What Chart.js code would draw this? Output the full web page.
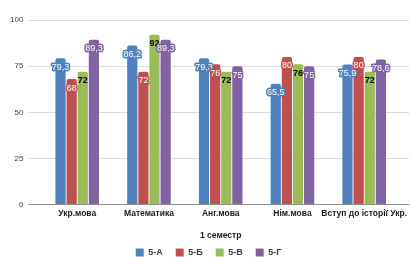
<!DOCTYPE html>
<html>
<head>
<meta charset="utf-8">
<script src="https://cdn.jsdelivr.net/npm/chart.js@4/dist/chart.umd.min.js"></script>
<style>
  html, body { margin: 0; padding: 0; background: #fff; }
  #wrap { width: 412px; height: 257px; }
</style>
</head>
<body>
<div id="wrap"><canvas id="chart" width="412" height="257"></canvas></div>
<script>
const subjects = ['Укр.мова', 'Математика', 'Анг.мова', 'Нім.мова', 'Вступ до історії Укр.'];
const classNames = ['5-А', '5-Б', '5-В', '5-Г'];
const class5A = [79.3, 86.2, 79.3, 65.5, 75.9];
const class5B = [68, 72, 76, 80, 80];
const class5V = [72, 92, 72, 76, 72];
const class5G = [89.3, 89.3, 75, 75, 78.6];
const yTicks = [0, 25, 50, 75, 100];

const colors = ['#4f81bd', '#c0504d', '#9bbb59', '#8064a2'];
const fontFamily = '"Liberation Sans", Arial, sans-serif';

// value labels drawn near the top of every bar (no datalabels plugin offline)
const barLabels = {
    id: 'barLabels',
    afterDatasetsDraw(chart) {
        const ctx = chart.ctx;
        ctx.save();
        ctx.textAlign = 'center';
        ctx.textBaseline = 'middle';
        chart.data.datasets.forEach((ds, i) => {
            const meta = chart.getDatasetMeta(i);
            meta.data.forEach((bar, j) => {
                const text = String(ds.data[j]).replace('.', ',');
                const y = bar.y + 9;
                if (i === 2) {
                    ctx.font = 'bold 9px ' + fontFamily;
                    ctx.fillStyle = '#000';
                    ctx.fillText(text, bar.x, y);
                } else {
                    ctx.font = '9px ' + fontFamily;
                    ctx.lineJoin = 'round';
                    ctx.lineWidth = 3;
                    ctx.strokeStyle = colors[i];
                    ctx.strokeText(text, bar.x, y);
                    ctx.fillStyle = '#fff';
                    ctx.fillText(text, bar.x, y);
                }
            });
        });
        ctx.restore();
    }
};

const seriesData = [class5A, class5B, class5V, class5G];

new Chart(document.getElementById('chart'), {
    type: 'bar',
    data: {
        labels: subjects,
        datasets: seriesData.map((d, i) => ({
            label: classNames[i],
            data: d,
            backgroundColor: colors[i],
            borderWidth: 0,
            borderRadius: { topLeft: 2, topRight: 2 },
            borderSkipped: 'bottom',
            categoryPercentage: 0.62,
            barPercentage: 0.92,
        }))
    },
    options: {
        responsive: false,
        animation: false,
        layout: {
            padding: { top: 20, left: 5, right: 0, bottom: -10 }
        },
        plugins: {
            legend: {
                position: 'bottom',
                labels: {
                    boxWidth: 8,
                    boxHeight: 8,
                    padding: 13,
                    color: '#404040',
                    font: { family: fontFamily, size: 9, weight: 'bold' }
                }
            },
            tooltip: { enabled: false }
        },
        scales: {
            x: {
                grid: { display: false, drawTicks: false },
                border: { display: false },
                ticks: {
                    color: '#1a1a1a',
                    padding: 4,
                    maxRotation: 0,
                    autoSkip: false,
                    font: { family: fontFamily, size: 8.5, weight: 'bold' }
                },
                title: {
                    display: true,
                    text: '1 семестр',
                    color: '#1a1a1a',
                    padding: { top: 8, bottom: -6 },
                    font: { family: fontFamily, size: 8.5, weight: 'bold' }
                }
            },
            y: {
                min: 0,
                max: 100,
                afterBuildTicks(scale) {
                    scale.ticks = yTicks.map(v => ({ value: v }));
                },
                border: { display: false },
                grid: {
                    color: (c) => c.tick && c.tick.value === 0 ? '#8c8c8c' : '#dcdcdc',
                    tickLength: 13
                },
                ticks: {
                    color: '#404040',
                    padding: 5,
                    font: { family: fontFamily, size: 8 }
                }
            },
            y2: {
                position: 'right',
                min: 0,
                max: 100,
                afterBuildTicks(scale) {
                    scale.ticks = yTicks.map(v => ({ value: v }));
                },
                border: { display: false },
                grid: {
                    drawOnChartArea: false,
                    color: (c) => c.tick && c.tick.value === 0 ? '#8c8c8c' : '#dcdcdc',
                    tickLength: 9
                },
                ticks: { display: false }
            }
        }
    },
    plugins: [barLabels]
});
</script>
</body>
</html>
